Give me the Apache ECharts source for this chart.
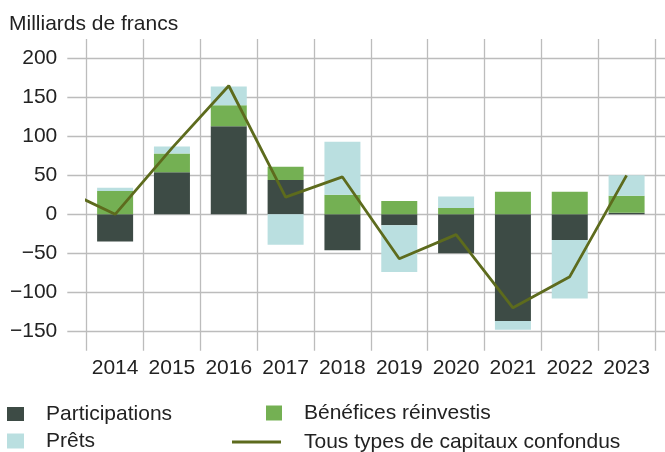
<!DOCTYPE html>
<html>
<head>
<meta charset="utf-8">
<script src="https://cdn.jsdelivr.net/npm/echarts@6/dist/echarts.min.js"></script>
<style>
html, body { margin: 0; padding: 0; background: #fff; }
#main { width: 665px; height: 452px; }
</style>
</head>
<body>
<div id="main"></div>
<script>
// années
var years = ['2014', '2015', '2016', '2017', '2018', '2019', '2020', '2021', '2022', '2023']
var yearNums = [2014, 2015, 2016, 2017, 2018, 2019, 2020, 2021, 2022, 2023]
// Milliards de francs
var participations = [-35, 54, 113, 44, -46, -14, -50, -137, -33, 2]
var benefices = [30, 24, 27, 17, 25, 17, 8, 29, 29, 22]
var prets = [4, 9, 24, -39, 68, -60, 15, -11, -75, 26]
// la ligne commence en 2013 (coupée au premier trait vertical)
var totalYears = [2013, 2014, 2015, 2016, 2017, 2018, 2019, 2020, 2021, 2022, 2023]
var total = [35, 0, 85, 165, 22, 48, -57, -26, -120, -80, 50]
var yTicks = [-150, -100, -50, 0, 50, 100, 150, 200]
var xGrid = [2013.5, 2014.5, 2015.5, 2016.5, 2017.5, 2018.5, 2019.5, 2020.5, 2021.5, 2022.5, 2023.5]

var font = 'Liberation Sans'
var txt = '#222'
var gridColor = '#bcbcbc'

var chart = echarts.init(document.getElementById('main'))

const legendText = {
    color: txt,
    fontSize: 21,
    fontFamily: font,
    lineHeight: 22,
    padding: [0, 0, 0, 17]
}
const legendBase = { padding: 0, itemGap: 0, textStyle: legendText }

const option = {
    animation: false,
    backgroundColor: '#fff',
    title: {
        text: 'Milliards de francs',
        left: 4,
        top: 9,
        textStyle: { color: txt, fontSize: 21, fontWeight: 'normal', fontFamily: font }
    },
    grid: [
        // grille complète (quadrillage)
        { left: 67.3, right: 0, top: 39, bottom: 101.3 },
        // barres et ligne, entre le premier et le dernier trait vertical
        { left: 86.7, right: 10, top: 39, bottom: 101.3 }
    ],
    legend: [
        Object.assign({ data: [{ name: 'Participations', icon: 'rect' }], left: 7, top: 403, itemWidth: 17, itemHeight: 14 }, legendBase),
        Object.assign({ data: [{ name: 'Prêts', icon: 'rect' }], left: 7, top: 430, itemWidth: 17, itemHeight: 15 }, legendBase),
        Object.assign({ data: [{ name: 'Bénéfices réinvestis', icon: 'rect' }], left: 266, top: 402, itemWidth: 16, itemHeight: 15 }, legendBase),
        Object.assign({ data: [{ name: 'Tous types de capitaux confondus', icon: 'rect' }], left: 232, top: 431, itemWidth: 49, itemHeight: 3 },
            legendBase, { textStyle: Object.assign({}, legendText, { padding: [0, 0, 0, 18] }) })
    ],
    xAxis: [
        {
            type: 'value',
            gridIndex: 0,
            min: 2013.159,
            max: 2023.676,
            axisLine: { show: false },
            axisTick: { show: false, customValues: xGrid },
            splitLine: { show: true, lineStyle: { color: gridColor, width: 1.3 } },
            axisLabel: {
                customValues: yearNums,
                formatter: function (v) { return String(v) },
                color: txt,
                fontSize: 21,
                fontFamily: font,
                margin: 7
            }
        },
        {
            type: 'category',
            gridIndex: 1,
            data: years,
            show: false
        },
        {
            type: 'value',
            gridIndex: 1,
            min: 2013.5,
            max: 2023.5,
            show: false,
            splitLine: { show: false }
        }
    ],
    yAxis: [
        {
            type: 'value',
            gridIndex: 0,
            min: -175,
            max: 225,
            axisLine: { show: false },
            axisTick: { show: false, customValues: yTicks },
            splitLine: { show: true, lineStyle: { color: gridColor, width: 1.3 } },
            axisLabel: {
                customValues: yTicks,
                formatter: function (v) { return v < 0 ? '\u2212' + (-v) : String(v) },
                color: txt,
                fontSize: 21,
                fontFamily: font,
                margin: 10
            }
        },
        {
            type: 'value',
            gridIndex: 1,
            min: -175,
            max: 225,
            show: false,
            splitLine: { show: false }
        }
    ],
    series: [
        {
            name: 'Participations',
            type: 'bar',
            stack: 'a',
            xAxisIndex: 1,
            yAxisIndex: 1,
            barWidth: 36,
            itemStyle: { color: '#3d4b45' },
            data: participations
        },
        {
            name: 'Bénéfices réinvestis',
            type: 'bar',
            stack: 'a',
            xAxisIndex: 1,
            yAxisIndex: 1,
            barWidth: 36,
            itemStyle: { color: '#74b053' },
            data: benefices
        },
        {
            name: 'Prêts',
            type: 'bar',
            stack: 'a',
            xAxisIndex: 1,
            yAxisIndex: 1,
            barWidth: 36,
            itemStyle: { color: '#badfe0' },
            data: prets
        },
        {
            name: 'Tous types de capitaux confondus',
            type: 'line',
            xAxisIndex: 2,
            yAxisIndex: 1,
            symbol: 'none',
            clip: true,
            z: 5,
            lineStyle: { color: '#5d6b1d', width: 2.8 },
            itemStyle: { color: '#5d6b1d' },
            data: totalYears.map(function (y, i) { return [y, total[i]] })
        }
    ]
};

option && chart.setOption(option);
</script>
</body>
</html>
